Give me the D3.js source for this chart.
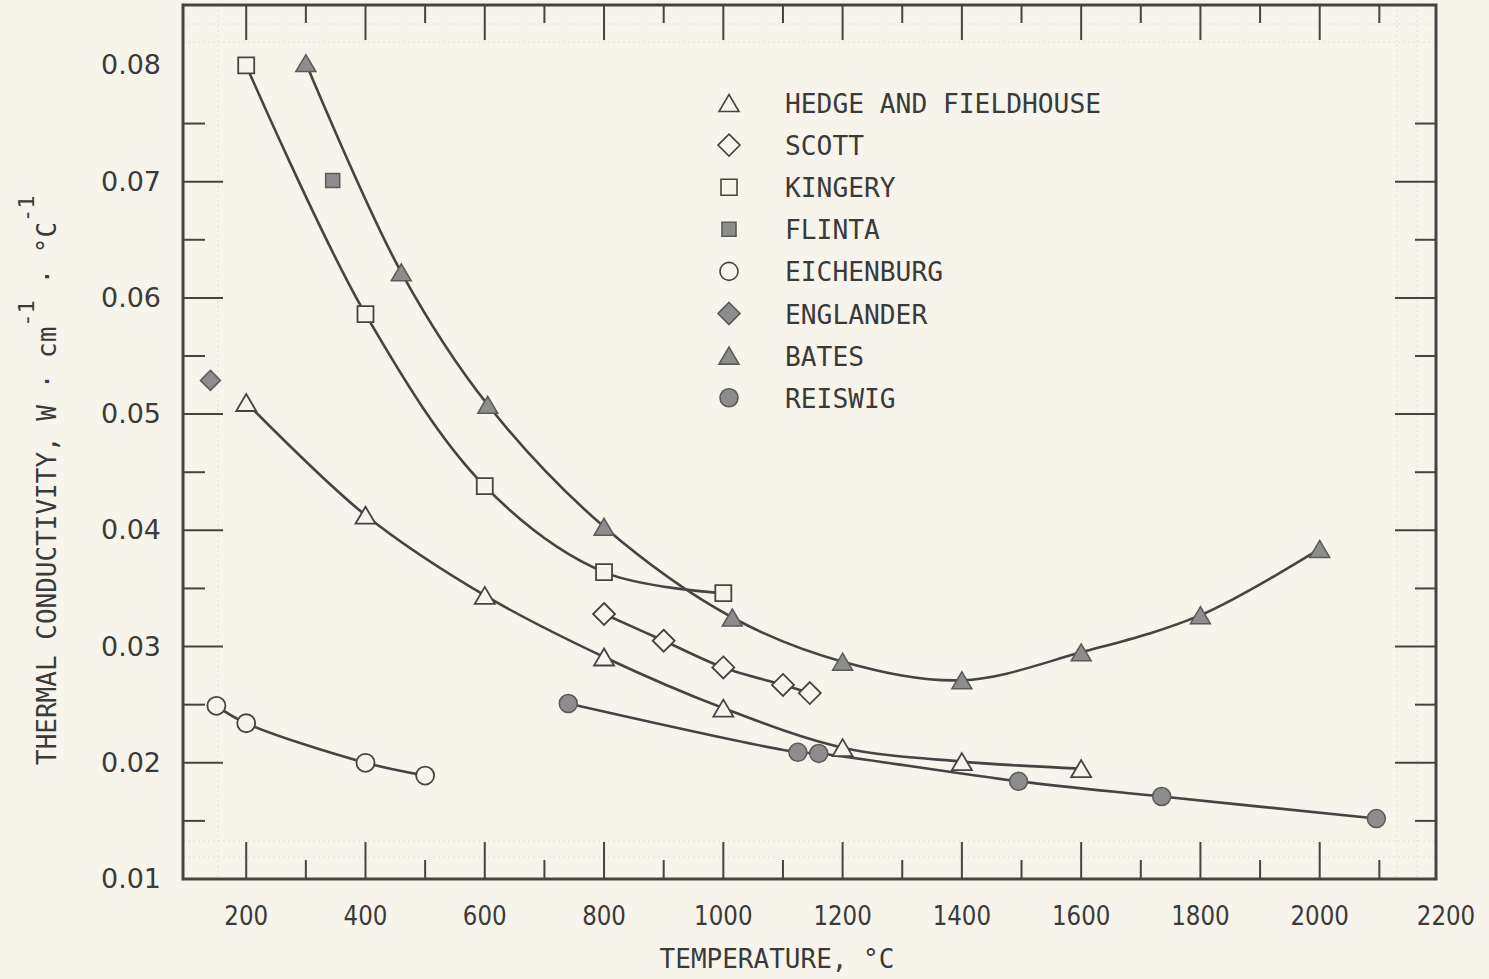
<!DOCTYPE html>
<html>
<head>
<meta charset="utf-8">
<script src="https://cdn.jsdelivr.net/npm/d3@7"></script>
<style>
  html, body { margin: 0; padding: 0; background: #f6f4eb; }
  svg { display: block; }
  text { font-family: "DejaVu Sans Mono", "Liberation Mono", monospace; fill: #3a3a3a; }
  text.num { font-family: "DejaVu Sans", "Liberation Sans", sans-serif; }
</style>
</head>
<body>
<svg id="chart" width="1489" height="979"></svg>
<script>
// ---- data (temperature °C, thermal conductivity W·cm^-1·°C^-1) ----
const hedgeT = [200, 400, 600, 800, 1000, 1200, 1400, 1600];
const hedgeK = [0.0510, 0.0413, 0.0344, 0.0291, 0.0247, 0.0213, 0.0201, 0.0195];

const scottT = [800, 900, 1000, 1100, 1145];
const scottK = [0.0328, 0.0305, 0.0282, 0.0267, 0.0260];

const kingeryT = [200, 400, 600, 800, 1000];
const kingeryK = [0.0800, 0.0586, 0.0438, 0.0364, 0.0346];

const flintaT = [345];
const flintaK = [0.0701];

const eichenburgT = [150, 200, 400, 500];
const eichenburgK = [0.0249, 0.0234, 0.0200, 0.0189];

const englanderT = [140];
const englanderK = [0.0529];

const batesT = [300, 460, 605, 800, 1015, 1200, 1400, 1600, 1800, 2000];
const batesK = [0.0802, 0.0622, 0.0508, 0.0403, 0.0325, 0.0287, 0.0271, 0.0295, 0.0327, 0.0384];

const reiswigT = [740, 1125, 1160, 1495, 1735, 2095];
const reiswigK = [0.0251, 0.0209, 0.0208, 0.0184, 0.0171, 0.0152];

const xTickLabels = [200, 400, 600, 800, 1000, 1200, 1400, 1600, 1800, 2000, 2200];
const yTickLabels = [0.01, 0.02, 0.03, 0.04, 0.05, 0.06, 0.07, 0.08];

const legendNames = ["HEDGE AND FIELDHOUSE", "SCOTT", "KINGERY", "FLINTA",
                     "EICHENBURG", "ENGLANDER", "BATES", "REISWIG"];
const legendShapes = ["triangle", "diamond", "square", "square", "circle", "diamond", "triangle", "circle"];
const legendFilled = [false, false, false, true, false, true, true, true];

// ---- series table built from the arrays ----
const series = [
  { T: hedgeT, K: hedgeK, shape: "triangle", filled: false, line: true },
  { T: scottT, K: scottK, shape: "diamond", filled: false, line: true },
  { T: kingeryT, K: kingeryK, shape: "square", filled: false, line: true },
  { T: flintaT, K: flintaK, shape: "square", filled: true, line: false, small: true },
  { T: eichenburgT, K: eichenburgK, shape: "circle", filled: false, line: true },
  { T: englanderT, K: englanderK, shape: "diamond", filled: true, line: false, small: true },
  { T: batesT, K: batesK, shape: "triangle", filled: true, line: true },
  { T: reiswigT, K: reiswigK, shape: "circle", filled: true, line: true }
];

// ---- layout ----
const svg = d3.select("#chart");
const L = 183, R = 1436, TOP = 5, BOT = 879;
const x = d3.scaleLinear().domain([94, 2195]).range([L, R]);
const y = d3.scaleLinear().domain([0.01, 0.0852]).range([BOT, TOP]);

const ink = "#444444";
const paper = "#f6f4eb";
const gray = "#8d8d8d";

// faint graph-paper rules
const faint = svg.append("g").attr("stroke", "#e0ded4").attr("stroke-width", 1)
  .attr("stroke-dasharray", "2 3").attr("fill", "none");
[24, 42, 841, 857].forEach(v => faint.append("line").attr("x1", L).attr("x2", R).attr("y1", v).attr("y2", v));
[218, 1397, 1417].forEach(v => faint.append("line").attr("x1", v).attr("x2", v).attr("y1", TOP).attr("y2", BOT));

// frame
svg.append("rect").attr("x", L).attr("y", TOP).attr("width", R - L).attr("height", BOT - TOP)
  .attr("fill", "none").attr("stroke", ink).attr("stroke-width", 3);

// x ticks (inward, top and bottom)
const xt = d3.range(200, 2101, 100);
const tg = svg.append("g").attr("stroke", ink).attr("stroke-width", 2);
xt.forEach(v => {
  const major = v % 200 === 0;
  const px = x(v);
  tg.append("line").attr("x1", px).attr("x2", px).attr("y1", BOT).attr("y2", BOT - (major ? 37 : 19));
  tg.append("line").attr("x1", px).attr("x2", px).attr("y1", TOP).attr("y2", TOP + (major ? 35 : 18));
});
// y ticks (inward, left and right)
const yt = d3.range(2, 16).map(i => i * 0.005);
yt.forEach(v => {
  const major = Math.round(v * 1000) % 10 === 0;
  const py = y(v);
  tg.append("line").attr("x1", L).attr("x2", L + (major ? 40 : 22)).attr("y1", py).attr("y2", py);
  tg.append("line").attr("x1", R).attr("x2", R - (major ? 41 : 21)).attr("y1", py).attr("y2", py);
});

// tick labels
svg.append("g").selectAll("text").data(xTickLabels).join("text")
  .attr("class", "num")
  .attr("x", d => x(d) + (d === 2200 ? 7 : 0)).attr("y", 925).attr("text-anchor", "middle")
  .attr("font-size", 27)
  .attr("textLength", d => String(d).length * 14.6).attr("lengthAdjust", "spacingAndGlyphs")
  .text(d => d);
svg.append("g").selectAll("text").data(yTickLabels).join("text")
  .attr("class", "num")
  .attr("x", 161).attr("y", d => y(d) + 9).attr("text-anchor", "end")
  .attr("font-size", 26)
  .attr("textLength", 60).attr("lengthAdjust", "spacingAndGlyphs")
  .text(d => d3.format(".2f")(d));

// axis titles
svg.append("text").attr("x", 777).attr("y", 968).attr("text-anchor", "middle")
  .attr("font-size", 26).text("TEMPERATURE, °C");

const yTitle = svg.append("text").attr("transform", "translate(56,765) rotate(-90)")
  .attr("font-size", 26);
yTitle.append("tspan").text("THERMAL CONDUCTIVITY, W · cm");
yTitle.append("tspan").attr("dy", -22).attr("font-size", 22).text("-1");
yTitle.append("tspan").attr("dy", 22).text(" · °C");
yTitle.append("tspan").attr("dy", -22).attr("font-size", 22).text("-1");

// marker shapes
function shapePath(shape, small) {
  if (shape === "triangle") return "M0,-8.5L10,8.5L-10,8.5Z";
  if (shape === "square") { const h = small ? 7 : 8; return `M${-h},${-h}H${h}V${h}H${-h}Z`; }
  if (shape === "diamond") { const h = small ? 10 : 11; return `M0,${-h}L${h},0L0,${h}L${-h},0Z`; }
  const r = 9; return `M${r},0A${r},${r} 0 1,1 ${-r},0A${r},${r} 0 1,1 ${r},0Z`;
}

// curves
const line = d3.line().x(d => x(d[0])).y(d => y(d[1])).curve(d3.curveCatmullRom.alpha(0.5));
const lg = svg.append("g").attr("fill", "none").attr("stroke", ink).attr("stroke-width", 2.6)
  .attr("stroke-linecap", "round");
series.filter(s => s.line).forEach(s => {
  lg.append("path").attr("d", line(s.T.map((t, i) => [t, s.K[i]])));
});

// markers
const mg = svg.append("g");
series.forEach(s => {
  s.T.forEach((t, i) => {
    mg.append("path").attr("d", shapePath(s.shape, s.small))
      .attr("transform", `translate(${x(t)},${y(s.K[i])})`)
      .attr("fill", s.filled ? gray : paper)
      .attr("stroke", s.filled ? "#5a5a5a" : ink)
      .attr("stroke-width", s.filled ? 1.5 : 1.8)
      .attr("stroke-linejoin", "miter");
  });
});

// legend
const lgd = svg.append("g");
legendNames.forEach((name, i) => {
  const cy = 103 + i * 42.1;
  lgd.append("path").attr("d", shapePath(legendShapes[i], legendShapes[i] === "square" && legendFilled[i]))
    .attr("transform", `translate(729,${cy})`)
    .attr("fill", legendFilled[i] ? gray : paper)
    .attr("stroke", legendFilled[i] ? "#5a5a5a" : ink)
    .attr("stroke-width", 1.6);
  lgd.append("text").attr("x", 785).attr("y", cy + 10).attr("font-size", 26)
    .attr("textLength", name.length * 15.8).attr("lengthAdjust", "spacingAndGlyphs")
    .text(name);
});
</script>
</body>
</html>
